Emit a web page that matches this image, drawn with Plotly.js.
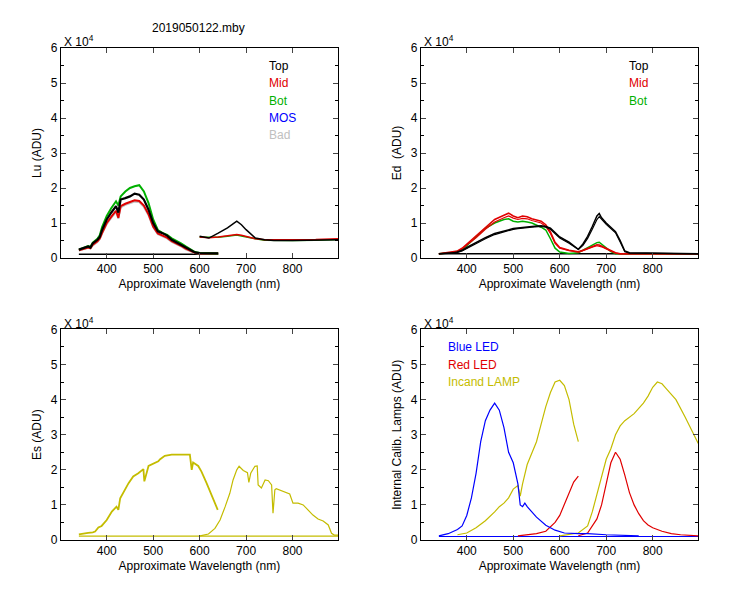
<!DOCTYPE html>
<html><head><meta charset="utf-8">
<script src="https://cdn.plot.ly/plotly-3.0.1.min.js"></script>
<style>body{margin:0;background:#fff}#c{width:750px;height:600px}</style>
</head><body><div id="c"></div>
<script>
// values in units of 10^4 ADU
// ---- Lu panel ----
const luWl1 = [340,350,360,365,370,380,385,390,400,410,420,425,430,440,450,460,470,480,490,500,510,520,530,540,550,560,570,580,590,600,620,640];
const luTop1 = [0.24,0.28,0.33,0.30,0.42,0.52,0.60,0.80,1.10,1.30,1.48,1.30,1.67,1.71,1.76,1.84,1.81,1.67,1.38,1.00,0.76,0.71,0.64,0.52,0.45,0.38,0.29,0.22,0.16,0.14,0.13,0.13];
const luBot1 = [0.24,0.28,0.34,0.32,0.44,0.55,0.65,0.88,1.20,1.43,1.62,1.50,1.76,1.90,2.00,2.05,2.08,1.90,1.57,1.10,0.80,0.72,0.66,0.56,0.50,0.42,0.33,0.25,0.17,0.14,0.13,0.13];
const luMid1 = [0.22,0.26,0.30,0.28,0.38,0.48,0.56,0.72,1.00,1.18,1.35,1.15,1.48,1.55,1.60,1.65,1.63,1.50,1.25,0.90,0.70,0.65,0.58,0.48,0.42,0.35,0.27,0.20,0.15,0.13,0.13,0.13];
const luBad1 = [0.21,0.25,0.29,0.27,0.36,0.46,0.54,0.70,0.97,1.15,1.32,1.12,1.45,1.52,1.57,1.61,1.60,1.46,1.22,0.88,0.68,0.63,0.56,0.46,0.40,0.33,0.25,0.19,0.14,0.13,0.13,0.13];
const luBaseWl = [340,640];
const luBase = [0.11,0.11];
const luWl2 = [600,620,640,660,680,690,700,720,740,760,800,850,898];
const luTop2 = [0.62,0.57,0.71,0.86,1.05,0.95,0.81,0.57,0.52,0.50,0.50,0.51,0.52];
const luMid2 = [0.60,0.58,0.60,0.63,0.67,0.65,0.62,0.55,0.52,0.52,0.52,0.53,0.55];
const luBot2 = [0.59,0.58,0.59,0.62,0.66,0.63,0.60,0.55,0.51,0.50,0.50,0.51,0.53];
// ---- Ed panel ----
const edWl = [340,360,370,380,390,400,420,440,460,480,490,500,510,520,530,540,560,570,580,590,600,620,640,650,660,670,680,685,690,700,710,720,730,740,750,800,898];
const edTop = [0.12,0.13,0.14,0.17,0.22,0.30,0.45,0.58,0.70,0.78,0.82,0.84,0.86,0.88,0.89,0.90,0.92,0.90,0.85,0.73,0.60,0.45,0.25,0.40,0.62,0.90,1.20,1.27,1.15,1.00,0.88,0.75,0.50,0.20,0.15,0.14,0.12];
const edTopB = [0.12,0.13,0.14,0.16,0.20,0.27,0.42,0.55,0.67,0.75,0.80,0.82,0.84,0.86,0.87,0.88,0.90,0.88,0.82,0.70,0.57,0.42,0.24,0.36,0.56,0.82,1.10,1.18,1.10,0.96,0.84,0.72,0.46,0.18,0.14,0.13,0.12];
const edMid = [0.12,0.15,0.17,0.20,0.28,0.40,0.62,0.88,1.10,1.22,1.28,1.20,1.15,1.20,1.18,1.12,1.05,0.95,0.75,0.45,0.30,0.22,0.18,0.22,0.28,0.33,0.38,0.37,0.34,0.28,0.22,0.15,0.12,0.12,0.12,0.12,0.12];
const edMidB = [0.12,0.14,0.16,0.19,0.26,0.37,0.58,0.82,1.03,1.15,1.20,1.14,1.10,1.13,1.12,1.07,1.00,0.90,0.70,0.42,0.28,0.21,0.17,0.21,0.27,0.31,0.35,0.34,0.32,0.26,0.20,0.14,0.12,0.12,0.12,0.12,0.12];
const edBot = [0.12,0.14,0.16,0.19,0.25,0.35,0.60,0.85,1.00,1.10,1.12,1.05,1.03,1.05,1.03,1.00,0.88,0.80,0.55,0.28,0.17,0.13,0.15,0.22,0.30,0.38,0.44,0.45,0.40,0.28,0.18,0.12,0.12,0.12,0.12,0.12,0.12];
const edBaseWl = [340,898];
const edBase = [0.12,0.12];
// ---- Es panel ----
const esWl1 = [340,350,360,370,375,382,389,400,411,421,425,429,439,447,457,468,479,481,490,500,511,515,525,540,554,568,579,583,586,597,604,615,626,633,639];
const esVal1 = [0.16,0.17,0.20,0.22,0.24,0.36,0.40,0.57,0.81,0.95,0.86,1.19,1.43,1.62,1.81,1.90,2.02,1.67,2.11,2.17,2.24,2.30,2.40,2.43,2.43,2.41,2.43,2.00,2.21,2.11,1.95,1.62,1.28,1.05,0.86];
const esWl2 = [601,619,633,644,655,665,672,680,685,694,703,706,710,719,724,726,733,741,748,755,758,762,765,780,794,801,812,823,834,844,855,866,877,884,890,898];
const esVal2 = [0.12,0.17,0.33,0.57,0.95,1.33,1.71,2.00,2.10,1.98,1.92,1.64,1.90,2.10,2.11,1.57,1.48,1.71,1.69,1.57,0.76,1.43,1.46,1.38,1.31,1.05,1.05,1.00,0.86,0.71,0.60,0.54,0.43,0.19,0.14,0.14];
const esBaseWl = [340,898];
const esBase = [0.11,0.11];
// ---- Calibration lamps panel ----
const blueWl = [340,360,380,390,400,410,420,430,440,450,460,470,480,490,500,510,515,520,525,530,550,570,590,610,640,660,700,770];
const blueVal = [0.12,0.18,0.30,0.40,0.70,1.20,1.90,2.80,3.40,3.70,3.90,3.70,3.20,2.50,2.20,1.60,1.00,0.95,1.05,0.95,0.65,0.42,0.28,0.20,0.18,0.18,0.15,0.12];
const blueBaseWl = [340,898];
const blueBase = [0.10,0.10];
const redWl1 = [510,550,570,590,600,610,620,630,640];
const redVal1 = [0.12,0.18,0.25,0.50,0.70,1.00,1.35,1.65,1.82];
const redWl2 = [640,660,680,690,700,710,720,730,740,750,760,770,780,790,800,820,840,860,898];
const redVal2 = [0.12,0.20,0.60,1.00,1.60,2.20,2.50,2.30,1.85,1.35,1.00,0.75,0.55,0.43,0.35,0.25,0.18,0.15,0.12];
const lampWl1 = [380,400,420,440,460,470,480,490,500,510,515,520,530,540,550,560,570,580,590,600,610,620,630,640];
const lampVal1 = [0.15,0.20,0.35,0.55,0.80,0.95,1.05,1.20,1.45,1.55,1.25,1.60,2.15,2.50,2.80,3.30,3.80,4.20,4.50,4.55,4.40,4.00,3.30,2.80];
const lampWl2 = [600,620,640,660,670,680,690,700,710,720,730,740,760,780,790,800,810,820,830,850,870,890,898];
const lampVal2 = [0.12,0.15,0.20,0.40,0.80,1.30,1.80,2.30,2.60,3.00,3.25,3.40,3.60,3.90,4.10,4.35,4.50,4.45,4.30,4.00,3.50,2.95,2.75];
const yTicks = [0,1,2,3,4,5,6];
const xTicks = [400,500,600,700,800];

const BLACK='#000000', RED='#e00000', GREEN='#00b000', BLUE='#0000ff', GRAY='#c0c0c0', YEL='#c4bc00';
function tr(x,y,color,ax,w){return {x:x,y:y,type:'scatter',mode:'lines',line:{color:color,width:w||1},xaxis:'x'+ax,yaxis:'y'+ax,hoverinfo:'skip'};}
const data = [
  tr(luBaseWl,luBase,BLACK,'',1.5),
  tr(luWl1,luBad1,GRAY,'',2), tr(luWl1,luMid1,RED,'',2), tr(luWl1,luBot1,GREEN,'',2), tr(luWl1,luTop1,BLACK,'',2.2),
  tr(luWl2,luBot2,GREEN,'',1.5), tr(luWl2,luMid2,RED,'',1.5), tr(luWl2,luTop2,BLACK,'',1.5),
  tr(edBaseWl,edBase,BLACK,'2',1.5),
  tr(edWl,edBot,GREEN,'2',1.5), tr(edWl,edMidB,RED,'2',1.2), tr(edWl,edMid,RED,'2',1.5),
  tr(edWl,edTopB,BLACK,'2',1.2), tr(edWl,edTop,BLACK,'2',1.5),
  tr(esBaseWl,esBase,YEL,'3',1.2), tr(esWl1,esVal1,YEL,'3',1.8), tr(esWl2,esVal2,YEL,'3',1.2),
  tr(blueBaseWl,blueBase,BLUE,'4',1.2),
  tr(lampWl1,lampVal1,YEL,'4',1.2), tr(lampWl2,lampVal2,YEL,'4',1.2),
  tr(redWl1,redVal1,RED,'4',1.2), tr(redWl2,redVal2,RED,'4',1.2),
  tr(blueWl,blueVal,BLUE,'4',1.2)
];
const F = {family:'Liberation Sans, Arial, sans-serif', size:12, color:'#000'};
function xa(dom,anchor){return {domain:dom,anchor:anchor,range:[301,898],tickvals:xTicks,ticks:'inside',ticklen:5,mirror:'ticks',showline:true,linecolor:'#000',linewidth:1,showgrid:false,zeroline:false,tickfont:F,title:{text:'Approximate Wavelength (nm)',font:F,standoff:4}};}
function ya(dom,anchor,t){return {domain:dom,anchor:anchor,range:[0,6],tickvals:yTicks,ticks:'inside',ticklen:5,mirror:'ticks',showline:true,linecolor:'#000',linewidth:1,showgrid:false,zeroline:false,tickfont:F,minor:{dtick:0.5,ticks:'inside',ticklen:3,tickcolor:'#000'},title:{text:t,font:F,standoff:6}};}
const X1=[0.081,0.4507], X2=[0.561,0.931], YT=[0.57,0.92], YB=[0.1,0.451];
function ann(x,y,t,c,xr,yr){return {x:x,y:y,xref:xr||'paper',yref:yr||'paper',text:t,showarrow:false,xanchor:'left',yanchor:'middle',font:{family:F.family,size:12,color:c}};}
const layout = {
  width:750,height:600,margin:{l:0,r:0,t:0,b:0},paper_bgcolor:'#fff',plot_bgcolor:'#fff',showlegend:false,
  xaxis:xa(X1,'y'), yaxis:ya(YT,'x','Lu (ADU)'),
  xaxis2:xa(X2,'y2'), yaxis2:ya(YT,'x2','Ed  (ADU)'),
  xaxis3:xa(X1,'y3'), yaxis3:ya(YB,'x3','Es (ADU)'),
  xaxis4:xa(X2,'y4'), yaxis4:ya(YB,'x4','Internal Calib. Lamps (ADU)'),
  annotations:[
    {x:199/750,y:1-28/600,xref:'paper',yref:'paper',text:'2019050122.mby',showarrow:false,xanchor:'center',yanchor:'middle',font:F},
    ann(62/750,1-41/600,'X 10<sup>4</sup>','#000'),
    ann(422/750,1-41/600,'X 10<sup>4</sup>','#000'),
    ann(62/750,1-323/600,'X 10<sup>4</sup>','#000'),
    ann(422/750,1-323/600,'X 10<sup>4</sup>','#000'),
    ann(267/750,1-66/600,'Top',BLACK), ann(267/750,1-83/600,'Mid',RED), ann(267/750,1-101/600,'Bot',GREEN),
    ann(267/750,1-118/600,'MOS',BLUE), ann(267/750,1-135/600,'Bad',GRAY),
    ann(627/750,1-66/600,'Top',BLACK), ann(627/750,1-83/600,'Mid',RED), ann(627/750,1-101/600,'Bot',GREEN),
    ann(446/750,1-347/600,'Blue LED',BLUE), ann(446/750,1-365/600,'Red LED',RED), ann(446/750,1-382/600,'Incand LAMP',YEL)
  ]
};
Plotly.newPlot('c',data,layout,{staticPlot:true});
</script></body></html>
